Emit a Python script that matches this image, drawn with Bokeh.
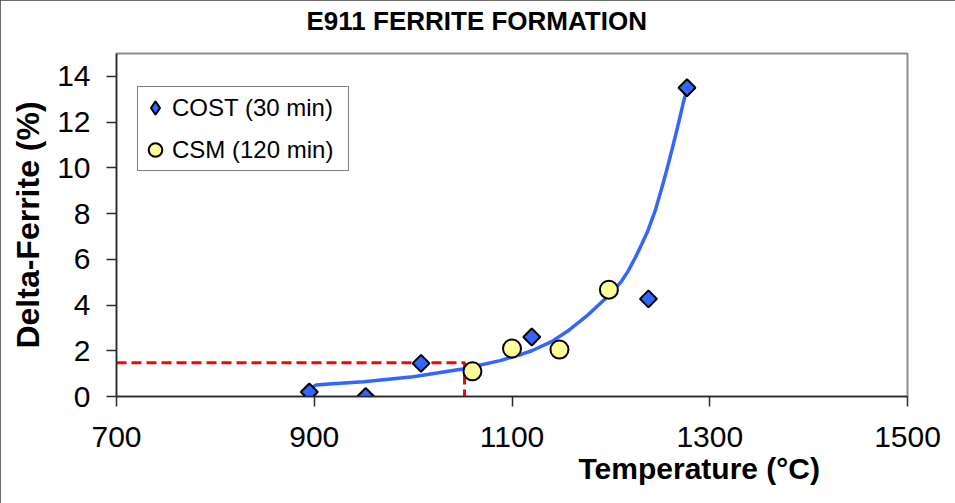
import math
from bokeh.plotting import figure
from bokeh.models import FixedTicker, Range1d, Legend, LegendItem, Title
from bokeh.embed import file_html
from bokeh.resources import INLINE

# ---------------- data ----------------
title_text = "E911 FERRITE FORMATION"
x_label = "Temperature (°C)"
y_label = "Delta-Ferrite (%)"

cost_name = "COST (30 min)"
cost_temp = [895, 952, 1008, 1120, 1238, 1277]
cost_ferrite = [0.2, 0.0, 1.45, 2.6, 4.27, 13.5]

csm_name = "CSM (120 min)"
csm_temp = [1060, 1100, 1148, 1198]
csm_ferrite = [1.1, 2.1, 2.05, 4.67]

# fitted trend curve
fit_temp = [897, 902, 915, 950, 1000, 1050, 1088, 1110, 1120, 1140, 1156,
            1175, 1190, 1200, 1210, 1217, 1225, 1230, 1237, 1245, 1253,
            1258, 1263, 1267, 1270, 1273, 1276]
fit_ferrite = [0.38, 0.5, 0.55, 0.65, 0.86, 1.2, 1.57, 1.85, 2.0, 2.4, 2.85,
               3.5, 4.1, 4.5, 5.0, 5.45, 6.1, 6.55, 7.2, 8.15, 9.35,
               10.15, 11.0, 11.7, 12.25, 12.8, 13.3]

# red dashed reading guide
guide_temp = [700, 1052, 1052]
guide_ferrite = [1.48, 1.48, 0.0]

x_ticks = [700, 900, 1100, 1300, 1500]
y_ticks = [0, 2, 4, 6, 8, 10, 12, 14]

FONT = "Liberation Sans"

p = figure(width=955, height=503, output_backend="svg", toolbar_location=None,
           x_range=Range1d(700, 1500), y_range=Range1d(0, 15),
           min_border_left=116, min_border_right=48,
           min_border_top=53, min_border_bottom=107)
p.styles = {"outline": "2px solid #3c3c3c", "outline-offset": "-2px"}
p.background_fill_color = "white"
p.border_fill_color = "white"
p.outline_line_color = "#8c8c8c"
p.outline_line_width = 2
p.xgrid.visible = False
p.ygrid.visible = False

# spacer between the frame and the chart title
p.add_layout(Title(text=" ", text_font_size="1px", standoff=15), "above")

p.title.text = title_text
p.title.align = "left"
p.title.offset = 190
p.title.text_font = FONT
p.title.text_font_size = "26px"
p.title.text_font_style = "bold"
p.title.text_color = "black"
p.title.standoff = 0

for ax in (p.xaxis, p.yaxis):
    ax.axis_line_color = "#2a2a2a"
    ax.axis_line_width = 1.5
    ax.major_tick_line_color = "#2a2a2a"
    ax.major_tick_line_width = 1.5
    ax.major_tick_out = 10
    ax.major_tick_in = 0
    ax.minor_tick_out = 0
    ax.minor_tick_in = 0
    ax.major_label_text_font = FONT
    ax.major_label_text_font_size = "30px"
    ax.major_label_text_color = "black"

p.xaxis.ticker = FixedTicker(ticks=x_ticks)
p.yaxis.ticker = FixedTicker(ticks=y_ticks)
p.xaxis.major_label_standoff = 20
p.yaxis.major_label_standoff = 16

p.yaxis.axis_label = y_label
p.yaxis.axis_label_text_font = FONT
p.yaxis.axis_label_text_font_style = "bold"
p.yaxis.axis_label_text_font_size = "32px"
p.yaxis.axis_label_text_color = "black"
p.yaxis.axis_label_standoff = 8

p.add_layout(Title(text=x_label, align="left", offset=462, text_font=FONT,
                   text_font_size="30px", text_font_style="bold",
                   text_color="black", standoff=0), "below")

# guide line
p.line(guide_temp, guide_ferrite, line_color="#ff0000", line_width=3,
       line_dash="10 5")

# trend curve
p.line(fit_temp, fit_ferrite, line_color="#3366ff", line_width=3.5,
       line_join="round")

# diamond-shaped renderer used for the legend swatch (hidden under the markers)
r_cost_leg = p.scatter(cost_temp, cost_ferrite, marker="diamond", size=9,
                       fill_color="#3366ff", line_color="black", line_width=2)
r_cost = p.scatter(cost_temp, cost_ferrite, marker="square", angle=math.pi / 4,
                   size=12, fill_color="#3366ff", line_color="black",
                   line_width=2)
r_csm = p.scatter(csm_temp, csm_ferrite, marker="circle", size=18,
                  fill_color="#ffff99", line_color="black", line_width=2)

legend = Legend(items=[LegendItem(label=cost_name, renderers=[r_cost_leg]),
                       LegendItem(label=csm_name, renderers=[r_csm])],
                location=(21, 225))
legend.label_text_font = FONT
legend.label_text_font_size = "24px"
legend.label_text_color = "black"
legend.label_height = 41
legend.glyph_height = 41
legend.glyph_width = 34
legend.label_width = 176
legend.spacing = 1
legend.padding = 0
legend.margin = 0
legend.label_standoff = -2
legend.border_line_color = "black"
legend.border_line_width = 1
legend.background_fill_alpha = 1
p.add_layout(legend, "center")

open("out.html", "w").write(file_html(p, INLINE))
